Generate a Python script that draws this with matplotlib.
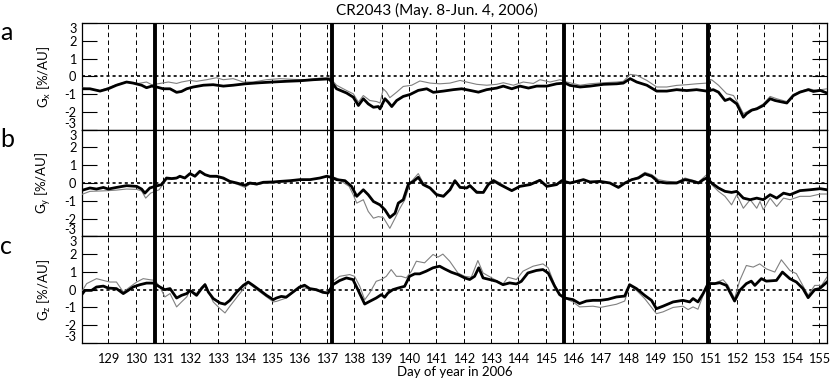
import numpy as np
import matplotlib
matplotlib.use("Agg")
import matplotlib.pyplot as plt

plt.rcParams["font.family"] = ["Lato", "DejaVu Sans"]
plt.rcParams["mathtext.fontset"] = "custom"
plt.rcParams["mathtext.rm"] = "Lato"
plt.rcParams["lines.scale_dashes"] = False

TITLE = "CR2043 (May. 8-Jun. 4, 2006)"
XLABEL = "Day of year in 2006"
LETTERS = ["a", "b", "c"]
YLABELS = [r"G$_{\rm x}$ [%/AU]", r"G$_{\rm y}$ [%/AU]", r"G$_{\rm z}$ [%/AU]"]
XLIM = (128.04, 155.29)
DAYS = list(range(129, 156))
YTICKS = [-3, -2, -1, 0, 1, 2, 3]
# sector boundary crossings (thick lines)
BOUNDARIES = [130.72, 137.17, 145.68, 150.93]

# (day, value) pairs
gx_bold = [(128.0, -0.7), (128.33, -0.7), (128.70, -0.83), (129.0, -0.7), (129.30, -0.5),
           (129.67, -0.32), (129.91, -0.38), (130.22, -0.5), (130.40, -0.64), (130.59, -0.55),
           (130.77, -0.6), (131.01, -0.7), (131.26, -0.7), (131.50, -0.9), (131.68, -0.85),
           (131.87, -0.7), (132.11, -0.6), (132.48, -0.5), (132.84, -0.47), (133.21, -0.55),
           (133.57, -0.5), (134.01, -0.42), (134.55, -0.36), (135.01, -0.32), (135.52, -0.28),
           (136.01, -0.25), (136.50, -0.19), (136.99, -0.15), (137.10, -0.18), (137.22, -0.42),
           (137.35, -0.7), (137.72, -0.94), (137.96, -1.17), (138.15, -1.64), (138.33, -1.26),
           (138.51, -1.55), (138.70, -1.74), (138.88, -1.7), (138.94, -1.83), (139.12, -1.26),
           (139.24, -1.45), (139.37, -1.7), (139.55, -1.36), (139.79, -1.13), (140.04, -1.02),
           (140.34, -0.79), (140.65, -0.7), (140.89, -0.9), (141.26, -0.83), (141.62, -0.75),
           (141.93, -0.7), (142.23, -0.79), (142.54, -0.89), (142.84, -0.75), (143.21, -0.66),
           (143.45, -0.55), (143.76, -0.7), (144.06, -0.55), (144.37, -0.66), (144.67, -0.55),
           (145.04, -0.55), (145.40, -0.42), (145.71, -0.38), (145.89, -0.51), (146.26, -0.6),
           (146.62, -0.55), (147.11, -0.45), (147.60, -0.42), (147.84, -0.38), (148.09, -0.13),
           (148.33, -0.32), (148.70, -0.5), (149.06, -0.83), (149.43, -0.83), (149.79, -0.75),
           (150.16, -0.8), (150.52, -0.75), (150.89, -0.83), (151.13, -0.75), (151.32, -0.89),
           (151.56, -1.36), (151.74, -1.26), (151.99, -1.55), (152.23, -2.3), (152.35, -2.1),
           (152.54, -1.9), (152.72, -1.83), (152.96, -1.64), (153.21, -1.26), (153.39, -1.36),
           (153.57, -1.42), (153.82, -1.5), (154.06, -1.08), (154.30, -0.89), (154.61, -0.75),
           (154.79, -0.85), (155.04, -0.79), (155.29, -0.94)]
gx_thin = [(128.0, -0.64), (128.70, -0.8), (129.30, -0.47), (129.67, -0.3), (130.10, -0.4),
           (130.40, -0.32), (130.59, -0.47), (130.89, -0.4), (131.20, -0.32), (131.50, -0.4),
           (131.68, -0.32), (131.99, -0.23), (132.23, -0.28), (132.60, -0.19), (132.96, -0.08),
           (133.21, -0.19), (133.57, -0.13), (133.94, -0.32), (134.30, -0.32), (134.79, -0.19),
           (135.28, -0.13), (135.77, -0.17), (136.26, -0.19), (136.74, -0.1), (137.11, -0.08),
           (137.35, -0.5), (137.72, -0.8), (137.96, -0.98), (138.15, -1.45), (138.33, -1.08),
           (138.57, -1.36), (138.82, -1.42), (138.94, -1.5), (139.06, -0.7), (139.18, -0.89),
           (139.30, -1.2), (139.55, -0.89), (139.79, -0.57), (140.10, -0.5), (140.40, -0.26),
           (140.77, -0.38), (141.13, -0.42), (141.50, -0.38), (141.87, -0.23), (142.11, -0.32),
           (142.48, -0.45), (142.84, -0.5), (143.21, -0.45), (143.45, -0.36), (143.82, -0.5),
           (144.18, -0.32), (144.55, -0.4), (144.79, -0.19), (145.16, -0.32), (145.52, -0.19),
           (145.77, -0.32), (146.26, -0.5), (146.62, -0.42), (147.11, -0.36), (147.60, -0.32),
           (147.84, -0.28), (148.09, 0.11), (148.33, 0.06), (148.70, -0.23), (149.06, -0.6),
           (149.43, -0.6), (149.79, -0.51), (150.16, -0.47), (150.52, -0.42), (150.89, -0.38),
           (151.07, -0.19), (151.32, -0.5), (151.62, -0.98), (151.87, -1.08), (152.05, -1.55),
           (152.23, -2.1), (152.48, -1.89), (152.72, -1.77), (152.96, -1.55), (153.21, -1.13),
           (153.45, -1.26), (153.82, -1.42), (154.06, -1.02), (154.30, -0.85), (154.61, -0.7),
           (154.91, -0.79), (155.29, -0.7)]

gy_bold = [(128.0, -0.43), (128.33, -0.28), (128.57, -0.34), (128.82, -0.25), (129.0, -0.34),
           (129.30, -0.25), (129.67, -0.15), (130.04, -0.19), (130.22, -0.34), (130.34, -0.57),
           (130.52, -0.28), (130.71, -0.19), (130.95, -0.09), (131.13, 0.28), (131.32, 0.25),
           (131.50, 0.28), (131.62, 0.38), (131.80, 0.28), (131.99, 0.53), (132.17, 0.38),
           (132.35, 0.66), (132.54, 0.47), (132.72, 0.38), (132.96, 0.38), (133.21, 0.28),
           (133.45, 0.09), (133.70, 0.0), (134.0, -0.13), (134.18, 0.0), (134.43, -0.06),
           (134.67, 0.04), (135.04, 0.06), (135.28, 0.09), (135.65, 0.13), (136.01, 0.19),
           (136.38, 0.19), (136.74, 0.28), (136.99, 0.38), (137.2, 0.3), (137.35, 0.19),
           (137.66, 0.13), (137.90, -0.19), (138.09, -0.75), (138.33, -0.38), (138.51, -0.66),
           (138.70, -1.04), (138.94, -1.23), (139.12, -1.51), (139.30, -1.94), (139.49, -1.7),
           (139.61, -1.13), (139.79, -0.94), (139.98, -0.06), (140.16, 0.09), (140.34, 0.32),
           (140.52, -0.09), (140.77, -0.28), (141.01, -0.66), (141.26, -0.75), (141.50, -0.38),
           (141.68, 0.13), (141.87, -0.25), (142.11, -0.28), (142.23, -0.15), (142.48, -0.53),
           (142.72, -0.53), (142.90, -0.09), (143.09, 0.13), (143.33, -0.09), (143.57, -0.28),
           (143.76, -0.43), (144.06, -0.19), (144.43, -0.09), (144.79, 0.15), (145.04, -0.19),
           (145.40, -0.09), (145.59, 0.13), (145.89, 0.0), (146.13, 0.09), (146.38, 0.19),
           (146.62, 0.06), (146.99, 0.09), (147.35, 0.0), (147.66, -0.25), (147.90, 0.0),
           (148.15, 0.19), (148.39, 0.28), (148.63, 0.51), (148.88, 0.38), (149.12, 0.06),
           (149.43, 0.0), (149.79, 0.0), (150.10, 0.19), (150.40, 0.09), (150.59, 0.0),
           (150.77, 0.19), (150.89, 0.28), (151.07, 0.0), (151.32, -0.28), (151.56, -0.47),
           (151.80, -0.53), (151.99, -0.47), (152.23, -0.85), (152.48, -0.94), (152.72, -0.85),
           (152.96, -0.94), (153.21, -0.66), (153.45, -0.85), (153.70, -0.57), (153.94, -0.66),
           (154.30, -0.43), (154.67, -0.38), (155.04, -0.32), (155.29, -0.38)]
gy_thin = [(128.0, -0.66), (128.33, -0.47), (128.7, -0.45), (129.0, -0.43), (129.3, -0.4),
           (129.67, -0.34), (130.04, -0.36), (130.22, -0.45), (130.37, -0.85), (130.55, -0.57),
           (130.86, -0.38), (131.13, 0.19), (131.32, 0.2), (131.5, 0.25), (131.62, 0.35),
           (131.8, 0.25), (131.99, 0.5), (132.17, 0.35), (132.35, 0.62), (132.54, 0.45),
           (132.72, 0.35), (132.96, 0.33), (133.21, 0.22), (133.45, 0.05), (133.7, -0.06),
           (134.0, -0.25), (134.18, -0.06), (134.43, -0.1), (134.67, -0.02), (135.04, 0.0),
           (135.28, 0.04), (135.65, 0.08), (136.01, 0.15), (136.38, 0.17), (136.74, 0.28),
           (136.99, 0.36), (137.11, 0.38), (137.35, 0.28), (137.81, -0.19), (137.96, -0.66),
           (138.09, -1.13), (138.33, -0.94), (138.51, -1.6), (138.7, -1.98), (138.88, -1.89),
           (139.06, -1.94), (139.3, -2.55), (139.49, -1.98), (139.67, -1.42), (139.85, -0.94),
           (140.04, 0.0), (140.34, 0.53), (140.52, 0.0), (140.77, -0.25), (141.01, -0.6),
           (141.26, -0.7), (141.5, -0.32), (141.68, 0.1), (141.87, -0.2), (142.11, -0.25),
           (142.23, -0.1), (142.48, -0.45), (142.72, -0.5), (142.9, 0.0), (143.09, 0.2),
           (143.33, 0.0), (143.57, -0.25), (143.76, -0.4), (144.06, -0.15), (144.43, -0.05),
           (144.79, 0.2), (145.04, -0.15), (145.4, -0.05), (145.59, 0.15), (145.89, 0.0),
           (146.13, 0.05), (146.38, 0.15), (146.62, 0.02), (146.99, 0.05), (147.35, 0.0),
           (147.66, -0.2), (147.9, 0.02), (148.15, 0.2), (148.39, 0.35), (148.63, 0.6),
           (148.88, 0.47), (149.12, 0.19), (149.43, 0.1), (149.79, 0.05), (150.1, 0.28),
           (150.4, 0.15), (150.59, 0.05), (150.77, 0.3), (150.89, 0.47), (151.07, -0.09),
           (151.32, -0.47), (151.56, -0.75), (151.8, -1.23), (151.99, -0.66), (152.23, -1.42),
           (152.48, -0.94), (152.72, -1.42), (152.84, -1.04), (152.96, -1.51), (153.21, -0.85),
           (153.45, -1.32), (153.7, -0.85), (153.94, -0.94), (154.3, -0.75), (154.67, -0.75),
           (155.04, -0.62), (155.29, -0.62)]

gz_bold = [(128.06, -0.22), (128.15, -0.04), (128.39, -0.04), (128.57, 0.15), (128.82, 0.2),
           (129.0, 0.09), (129.30, 0.06), (129.55, -0.22), (129.73, -0.04), (129.91, 0.15),
           (130.16, 0.28), (130.40, 0.37), (130.65, 0.37), (130.89, 0.15), (131.07, 0.0),
           (131.26, 0.06), (131.50, -0.47), (131.68, -0.32), (131.87, -0.22), (131.99, -0.04),
           (132.23, -0.32), (132.41, 0.06), (132.54, 0.28), (132.66, -0.13), (132.84, -0.5),
           (133.09, -0.75), (133.27, -0.82), (133.45, -0.6), (133.70, -0.13), (133.94, 0.24),
           (134.12, 0.43), (134.30, 0.24), (134.55, -0.04), (134.79, -0.32), (135.04, -0.56),
           (135.15, -0.47), (135.33, -0.38), (135.51, -0.42), (135.76, -0.13), (136.0, 0.15),
           (136.18, 0.25), (136.37, 0.06), (136.61, 0.0), (136.85, -0.15), (137.04, -0.19),
           (137.22, 0.28), (137.46, 0.51), (137.71, 0.66), (137.95, 0.57), (138.13, 0.0),
           (138.38, -0.81), (138.56, -0.66), (138.80, -0.47), (138.99, -0.28), (139.11, -0.43),
           (139.23, -0.19), (139.41, 0.0), (139.60, 0.09), (139.84, 0.19), (140.02, 0.75),
           (140.21, 0.89), (140.39, 0.89), (140.63, 1.04), (140.88, 1.23), (141.12, 1.32),
           (141.30, 1.17), (141.55, 0.98), (141.79, 0.85), (142.04, 0.66), (142.22, 0.57),
           (142.40, 0.75), (142.55, 1.23), (142.71, 0.66), (142.95, 0.57), (143.20, 0.47),
           (143.44, 0.28), (143.68, 0.38), (143.93, 0.32), (144.11, 0.47), (144.35, 0.94),
           (144.66, 1.08), (144.90, 1.13), (145.09, 0.94), (145.33, 0.19), (145.51, -0.28),
           (145.70, -0.47), (146.0, -0.56), (146.24, -0.78), (146.49, -0.64), (146.73, -0.6),
           (147.0, -0.6), (147.28, -0.54), (147.59, -0.41), (147.89, -0.36), (148.07, 0.28),
           (148.32, 0.06), (148.62, -0.32), (148.87, -0.6), (149.05, -1.07), (149.29, -0.93),
           (149.66, -0.69), (150.02, -0.6), (150.27, -0.69), (150.39, -0.5), (150.57, -0.69),
           (150.76, -0.22), (150.94, 0.34), (151.18, 0.34), (151.37, 0.39), (151.61, 0.24),
           (151.91, -0.64), (152.10, -0.04), (152.34, 0.34), (152.52, 0.48), (152.65, 0.24),
           (152.89, 0.62), (153.07, 0.48), (153.44, 0.52), (153.66, 0.99), (153.93, 0.62),
           (154.17, 0.43), (154.41, 0.06), (154.60, -0.45), (154.84, 0.0), (155.02, 0.06),
           (155.29, 0.43)]
gz_thin = [(128.06, -0.04), (128.21, 0.34), (128.57, 0.62), (128.82, 0.52), (129.06, 0.43),
           (129.30, 0.43), (129.55, -0.13), (129.79, 0.15), (130.04, 0.43), (130.28, 0.62),
           (130.52, 0.56), (130.71, 0.52), (130.89, 0.15), (131.07, -0.41), (131.26, -0.22),
           (131.50, -0.97), (131.68, -0.69), (131.87, -0.41), (131.99, -0.04), (132.23, -0.22),
           (132.41, 0.15), (132.54, 0.34), (132.84, -0.69), (133.09, -1.07), (133.27, -1.31),
           (133.45, -0.93), (133.76, -0.32), (134.12, 0.37), (134.55, -0.13), (135.04, -0.69),
           (135.15, -0.66), (135.51, -0.47), (136.0, 0.15), (136.61, -0.06), (137.04, -0.19),
           (137.22, 0.47), (137.46, 0.75), (137.83, 0.85), (138.01, 0.75), (138.20, 0.19),
           (138.38, -0.57), (138.56, -0.19), (138.80, 0.47), (138.99, 0.57), (139.17, 0.75),
           (139.35, 1.13), (139.54, 0.75), (139.72, 0.75), (139.90, 0.66), (140.09, 1.04),
           (140.27, 1.6), (140.57, 1.51), (140.88, 1.98), (141.06, 1.83), (141.24, 2.0),
           (141.49, 1.6), (141.79, 0.94), (142.04, 0.75), (142.28, 0.7), (142.52, 1.64),
           (142.71, 0.94), (143.20, 0.51), (143.44, 0.32), (143.62, 0.7), (143.93, 0.57),
           (144.17, 1.04), (144.54, 1.32), (144.90, 1.45), (145.09, 1.23), (145.33, 0.28),
           (145.57, -0.38), (145.82, -0.57), (146.0, -0.69), (146.24, -0.97), (146.73, -0.93),
           (147.0, -1.0), (147.59, -0.82), (147.89, -0.64), (148.07, 0.24), (148.32, -0.04),
           (148.62, -0.5), (149.05, -1.35), (149.29, -1.25), (149.66, -1.0), (150.02, -0.93),
           (150.21, -1.12), (150.39, -0.97), (150.57, -1.1), (150.76, -0.32), (150.94, 0.43),
           (151.18, 0.37), (151.49, 0.56), (151.67, 0.24), (151.91, -0.5), (152.10, 0.52),
           (152.34, 1.36), (152.59, 1.27), (152.83, 1.45), (153.07, 1.17), (153.38, 0.99),
           (153.62, 1.68), (153.93, 1.08), (154.17, 0.9), (154.60, -0.32), (154.84, 0.24),
           (155.09, 0.24), (155.29, 0.71)]

series = [(gx_bold, gx_thin), (gy_bold, gy_thin), (gz_bold, gz_thin)]

W, H = 830, 381
fig = plt.figure(figsize=(W / 100, H / 100), dpi=100)
left, right, top, bot = 82, 827, 23, 343
ph = (bot - top) / 3

axes = []
for i in range(3):
    y0 = 1 - (top + (i + 1) * ph) / H
    ax = fig.add_axes([left / W, y0, (right - left) / W, ph / H])
    axes.append(ax)

for i, ax in enumerate(axes):
    bold, thin = series[i]
    tt, vt = np.array(thin).T
    tb, vb = np.array(bold).T
    ax.plot(tt, vt, color="#808080", lw=0.8, zorder=3)
    ax.plot(tb, vb, color="black", lw=2.0, zorder=4)
    ax.axhline(0, color="black", lw=1.2, ls=(0, (2.2, 2.2)), zorder=2)
    for b in BOUNDARIES:
        ax.axvline(b, color="black", lw=2.8, zorder=5)

    ax.set_xlim(*XLIM)
    ax.set_ylim(-3, 3)
    ax.set_xticks(DAYS, labels=[str(d) for d in DAYS])
    ax.grid(True, axis="x", color="black", lw=0.7, ls=(0, (3.2, 2.4)))
    ax.set_axisbelow(True)
    ax.tick_params(axis="x", length=0, pad=7, labelsize=9.2,
                   labelbottom=(i == 2))
    ax.set_yticks(YTICKS, labels=[str(v) for v in YTICKS])
    ax.tick_params(axis="y", direction="in", length=11, width=0.8, pad=4,
                   right=True, labelsize=9.2)
    for lab, v in zip(ax.get_yticklabels(), YTICKS):
        if v == -3:
            lab.set_va("bottom")
        elif v == 3:
            lab.set_va("top")
    for s in ax.spines.values():
        s.set_linewidth(0.9)
    ax.set_ylabel(YLABELS[i], fontsize=9.5)
    ax.yaxis.set_label_coords(-0.039, 0.5)
    fig.text(0.0, 1 - (top + i * ph + 10) / H, LETTERS[i], fontsize=18,
             va="center", ha="left")

fig.text(437 / W, 1 - 10 / H, TITLE, fontsize=11, ha="center", va="center")
axes[2].set_xlabel(XLABEL, fontsize=9.5, labelpad=1)

fig.savefig("out.png", dpi=100)
